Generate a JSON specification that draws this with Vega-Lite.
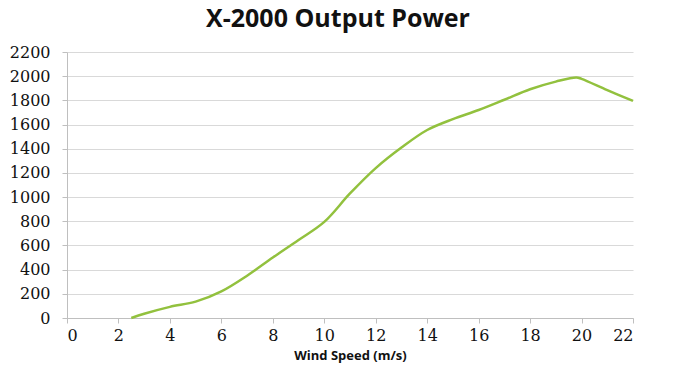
{
  "$schema": "https://vega.github.io/schema/vega-lite/v6.json",
  "width": 566,
  "height": 266,
  "autosize": {"type": "none"},
  "padding": {"left": 67, "top": 52, "right": 51, "bottom": 60},
  "background": "white",
  "title": {
    "text": "X-2000 Output Power",
    "font": "Open Sans",
    "fontWeight": "bold",
    "fontSize": 25,
    "color": "#111111",
    "anchor": "middle",
    "frame": "group",
    "offset": 12,
    "dx": -12
  },
  "data": {
    "values": [
      {"speed": 2.5, "power": 0},
      {"speed": 3, "power": 35},
      {"speed": 4, "power": 92},
      {"speed": 5, "power": 135},
      {"speed": 6, "power": 220},
      {"speed": 7, "power": 350},
      {"speed": 8, "power": 500},
      {"speed": 9, "power": 645},
      {"speed": 10, "power": 795},
      {"speed": 11, "power": 1030},
      {"speed": 12, "power": 1240},
      {"speed": 13, "power": 1410},
      {"speed": 14, "power": 1555},
      {"speed": 15, "power": 1645},
      {"speed": 16, "power": 1720},
      {"speed": 17, "power": 1805},
      {"speed": 18, "power": 1892},
      {"speed": 19, "power": 1955},
      {"speed": 19.8, "power": 1990},
      {"speed": 20, "power": 1978},
      {"speed": 21, "power": 1885},
      {"speed": 22, "power": 1795}
    ]
  },
  "mark": {"type": "line", "color": "#92C13E", "strokeWidth": 2.5, "interpolate": "catmull-rom"},
  "encoding": {
    "x": {
      "field": "speed",
      "type": "quantitative",
      "scale": {"domain": [0, 22], "nice": false, "zero": false},
      "axis": {
        "values": [0, 2, 4, 6, 8, 10, 12, 14, 16, 18, 20, 22],
        "format": "d",
        "title": "Wind Speed (m/s)",
        "titleFont": "Open Sans",
        "titleFontWeight": "bold",
        "titleFontSize": 13,
        "titleColor": "#111111",
        "titlePadding": 6,
        "labelFont": "DejaVu Serif",
        "labelFontSize": 16,
        "labelColor": "#111111",
        "labelPadding": 4,
        "grid": false,
        "domainColor": "#bfbfbf",
        "tickColor": "#bfbfbf",
        "tickSize": 5
      }
    },
    "y": {
      "field": "power",
      "type": "quantitative",
      "scale": {"domain": [0, 2200], "nice": false},
      "axis": {
        "values": [0, 200, 400, 600, 800, 1000, 1200, 1400, 1600, 1800, 2000, 2200],
        "format": "d",
        "title": null,
        "labelFont": "DejaVu Serif",
        "labelFontSize": 16,
        "labelColor": "#111111",
        "labelPadding": 12,
        "grid": true,
        "gridColor": "#d9d9d9",
        "gridWidth": 1.2,
        "domainColor": "#bfbfbf",
        "tickColor": "#bfbfbf",
        "tickSize": 5
      }
    }
  },
  "config": {"view": {"stroke": null}}
}
